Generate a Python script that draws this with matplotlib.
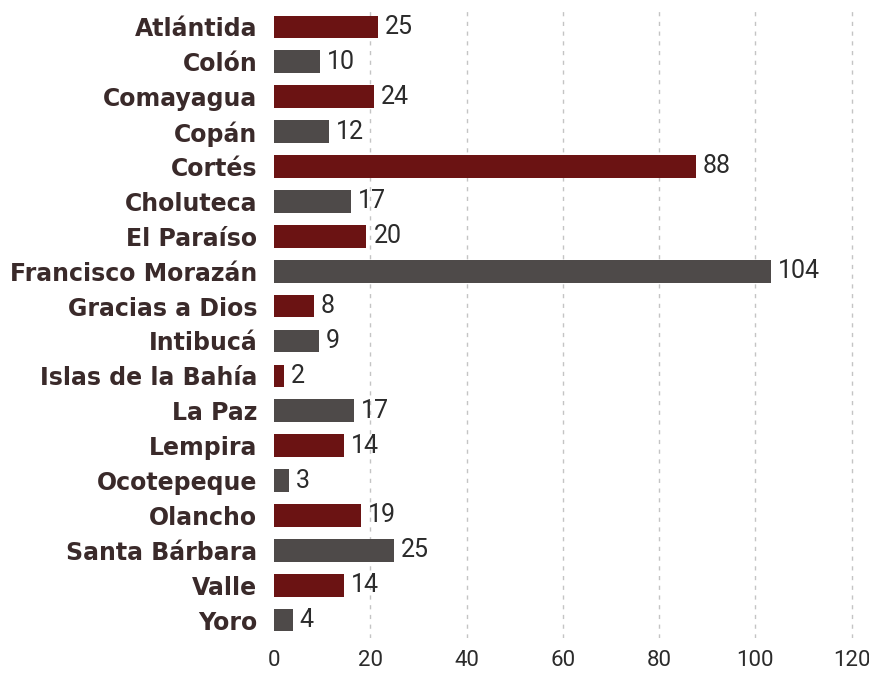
import matplotlib

matplotlib.use("Agg")
import matplotlib.pyplot as plt  # noqa: E402

departments = ["Atlántida", "Colón", "Comayagua", "Copán", "Cortés", "Choluteca",
               "El Paraíso", "Francisco Morazán", "Gracias a Dios", "Intibucá",
               "Islas de la Bahía", "La Paz", "Lempira", "Ocotepeque", "Olancho",
               "Santa Bárbara", "Valle", "Yoro"]
# printed labels
values = [25, 10, 24, 12, 88, 17, 20, 104, 8, 9, 2, 17, 14, 3, 19, 25, 14, 4]
# bar lengths as drawn in the source graphic (not always equal to the label)
bar_lengths = [21.5, 9.5, 20.7, 11.4, 87.6, 15.9, 19.2, 103.3, 8.3, 9.3,
               2.1, 16.6, 14.5, 3.1, 18.0, 25.0, 14.5, 3.9]
xticks = [0, 20, 40, 60, 80, 100, 120]

RED = "#6b1313"
GRAY = "#4e4a49"
LABEL = "#3a2a2a"
TEXT = "#2b2b2b"

fig = plt.figure(figsize=(8.7, 6.74), dpi=100)
ax = fig.add_axes([0.315, 0.054, 0.675, 0.932])

ypos = list(range(len(departments)))
colors = [RED if i % 2 == 0 else GRAY for i in ypos]
ax.barh(ypos, bar_lengths, height=0.65, color=colors, zorder=3)

for y, b, v in zip(ypos, bar_lengths, values):
    ax.annotate(str(v), (b, y), xytext=(5, 0), textcoords="offset points",
                va="center", ha="left", fontsize=18, family="Roboto",
                color=TEXT, zorder=4)

ax.set_yticks(ypos)
ax.set_yticklabels(departments, family="DejaVu Sans", fontweight="bold",
                   fontsize=17, color=LABEL)
ax.set_xticks(xticks)
ax.set_xticklabels([str(t) for t in xticks], family="Roboto",
                   fontsize=16, color=TEXT)
ax.set_xlim(0, 122)
ax.set_ylim(len(departments) - 0.5, -0.5)

ax.tick_params(axis="both", length=0)
ax.tick_params(axis="y", pad=12)
ax.tick_params(axis="x", pad=9)
for s in ax.spines.values():
    s.set_visible(False)
for t in xticks[1:]:
    ax.axvline(t, linestyle=(0, (3, 4)), color="#c4c4c4", linewidth=1, zorder=0)

fig.savefig("out.png", dpi=100)
